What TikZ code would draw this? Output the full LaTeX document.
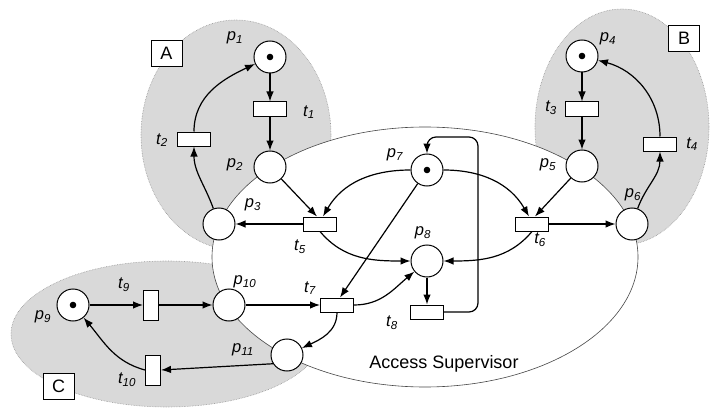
\documentclass[tikz,border=0pt]{standalone}
\usepackage{fontspec}
\setmainfont{Liberation Sans}
\usetikzlibrary{arrows.meta,calc}
\newcommand\Lb[2]{#1\textsubscript{#2}}
\begin{document}
\begin{tikzpicture}[x=1pt,y=1pt,
  place/.style={circle, draw, fill=white, minimum size=32pt, inner sep=0pt, line width=1pt},
  trans/.style={rectangle, draw, fill=white, minimum width=33pt, minimum height=14pt, inner sep=0pt, line width=1pt},
  vtrans/.style={rectangle, draw, fill=white, minimum width=15pt, minimum height=30pt, inner sep=0pt, line width=1pt},
  lab/.style={font=\fontsize{16.5}{16.5}\selectfont\itshape, inner sep=0pt},
  region/.style={fill={rgb,255:red,217;green,217;blue,217}, draw={rgb,255:red,150;green,150;blue,150}, densely dotted, line width=0.6pt},
  sup/.style={fill=white, draw={rgb,255:red,70;green,70;blue,70}, line width=0.6pt},
  tagbox/.style={rectangle, draw, fill=white, line width=0.7pt, minimum width=31pt, minimum height=26pt, inner sep=0pt, font=\fontsize{18}{18}\selectfont},
  arr/.style={-{Latex[length=10pt,width=7.5pt]}, line width=1.2pt},
]
\useasboundingbox (0,0) rectangle (710,408);
% regions
\path[region] (236,273) ellipse [x radius=95, y radius=115];
\path[region] (622,281) ellipse [x radius=87, y radius=118];
\path[region] (167,74) ellipse [x radius=156, y radius=73];
\path[sup] (425,151) ellipse [x radius=213, y radius=130];
\node[font=\fontsize{18}{18}\selectfont] (as) at (444,44) {Access Supervisor};
% tag boxes
\node[tagbox] (A) at (166.5,355) {A};
\node[tagbox] (B) at (684,369.5) {B};
\node[tagbox] (C) at (58.5,22) {C};
% places
\node[place] (p1) at (270,351) {};
\node[place] (p2) at (270,241) {};
\node[place] (p3) at (219,184) {};
\node[place] (p4) at (582,352) {};
\node[place] (p5) at (582,242) {};
\node[place] (p6) at (632,184) {};
\node[place] (p7) at (427,238) {};
\node[place] (p8) at (427,147) {};
\node[place] (p9) at (73,103) {};
\node[place] (p10) at (229,103) {};
\node[place] (p11) at (287,53) {};
% tokens
\foreach \p in {p1,p4,p7,p9} \fill (\p.center) circle (3.3pt);
% transitions
\node[trans] (t1) at (270,299) {};
\node[trans] (t2) at (194,269) {};
\node[trans] (t3) at (582,299) {};
\node[trans] (t4) at (660,264) {};
\node[trans] (t5) at (320,184) {};
\node[trans] (t6) at (532,184) {};
\node[trans] (t7) at (337,103) {};
\node[trans] (t8) at (427,96) {};
\node[vtrans] (t9) at (151,103) {};
\node[vtrans] (t10) at (153,38) {};
% labels
\node[lab] at (235,370) {\Lb{p}{1}};
\node[lab] at (309,296) {\Lb{t}{1}};
\node[lab] at (162,268) {\Lb{t}{2}};
\node[lab] at (235,243) {\Lb{p}{2}};
\node[lab] at (253,203) {\Lb{p}{3}};
\node[lab] at (300,161) {\Lb{t}{5}};
\node[lab] at (608,369) {\Lb{p}{4}};
\node[lab] at (551,300) {\Lb{t}{3}};
\node[lab] at (548,243) {\Lb{p}{5}};
\node[lab] at (692,264) {\Lb{t}{4}};
\node[lab] at (633,213) {\Lb{p}{6}};
\node[lab] at (540,168) {\Lb{t}{6}};
\node[lab] at (395,253) {\Lb{p}{7}};
\node[lab] at (423,175) {\Lb{p}{8}};
\node[lab] at (392,85) {\Lb{t}{8}};
\node[lab] at (310,120) {\Lb{t}{7}};
\node[lab] at (245,126) {\Lb{p}{10}};
\node[lab] at (243,58) {\Lb{p}{11}};
\node[lab] at (43,91) {\Lb{p}{9}};
\node[lab] at (124,123) {\Lb{t}{9}};
\node[lab] at (127,28) {\Lb{t}{10}};
% arcs
\draw[arr] (p1) -- (t1);
\draw[arr] (t1) -- (p2);
\draw[arr] (t2.north) to[out=90,in=205] (p1);
\draw[arr] (p3) to[out=110,in=-90] (t2.south);
\draw[arr] (p2) -- ([xshift=-3pt]t5.north);
\draw[arr] (p7) to[out=180,in=60] ([xshift=3pt]t5.north);
\draw[arr] (t5) -- (p3);
\draw[arr] (t5.south) to[out=-50,in=180] (p8);
\draw[arr] (p4) -- (t3);
\draw[arr] (t3) -- (p5);
\draw[arr] (p5) -- ([xshift=3pt]t6.north);
\draw[arr] (p7) to[out=0,in=120] ([xshift=-3pt]t6.north);
\draw[arr] (t6) -- (p6);
\draw[arr] (t6.south) to[out=-130,in=0] (p8);
\draw[arr] (p6) to[out=70,in=-90] (t4.south);
\draw[arr] (t4.north) to[out=90,in=-15] (p4);
\draw[arr] (p7) -- ([xshift=3pt]t7.north);
\draw[arr] (p10) -- (t7);
\draw[arr] (t7.east) to[out=0,in=-140] (p8);
\draw[arr] (t7.south) to[out=-90,in=25] (p11);
\draw[arr] (p11.212) -- (t10.east);
\draw[arr] (t10.west) to[out=165,in=-50] (p9);
\draw[arr] (p9) -- (t9);
\draw[arr] (t9) -- (p10);
\draw[arr] (p8) -- (t8);
\draw[arr, rounded corners=9pt] (t8.east) -| (478,271) -| (p7.north);
\end{tikzpicture}
\end{document}
